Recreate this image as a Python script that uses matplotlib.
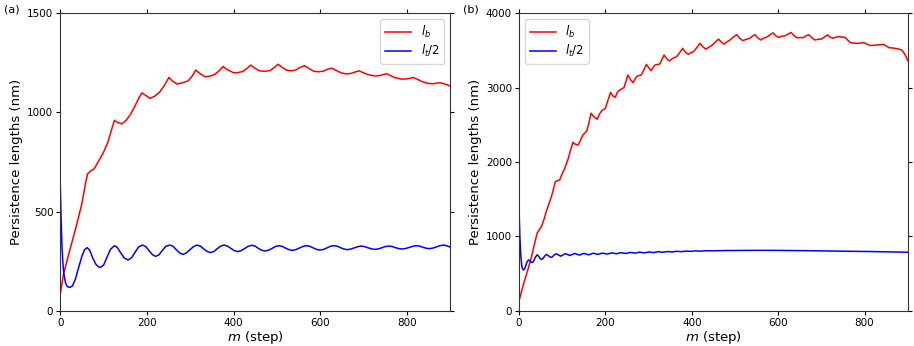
import matplotlib
matplotlib.use("Agg")
import matplotlib.pyplot as plt

# ---------------- Panel (a) data ----------------
a_red_m = [0, 7, 20, 35, 50, 58, 63, 70, 78, 90, 100, 110, 118, 125, 132, 142, 152, 162, 172, 182,
           189, 196, 207, 218, 230, 240, 251, 258, 270, 283, 296, 305, 313, 320, 334, 346, 357, 367,
           376, 384, 400, 410, 421, 431, 440, 448, 460, 473, 485, 495, 503, 512, 523, 534, 545, 555,
           564, 574, 585, 596, 607, 618, 627, 637, 648, 661, 672, 681, 690, 700, 712, 727, 738, 746,
           754, 763, 775, 788, 800, 808, 815, 824, 836, 850, 862, 870, 877, 885, 893, 900]
a_red_v = [84, 180, 290, 410, 541, 640, 690, 705, 715, 760, 800, 850, 910, 960, 950, 942, 960, 990, 1030, 1075,
           1099, 1088, 1071, 1082, 1104, 1135, 1177, 1160, 1143, 1150, 1160, 1185, 1214, 1200, 1180, 1183, 1192, 1210,
           1232, 1218, 1200, 1201, 1206, 1222, 1239, 1225, 1210, 1207, 1212, 1228, 1243, 1228, 1213, 1210, 1215, 1228,
           1236, 1222, 1208, 1205, 1208, 1218, 1223, 1212, 1200, 1194, 1197, 1204, 1210, 1200, 1190, 1184, 1186, 1191,
           1195, 1185, 1174, 1168, 1169, 1172, 1176, 1168, 1155, 1146, 1145, 1148, 1150, 1145, 1140, 1133]

a_blue_m = [0, 2, 4, 6, 8, 12, 16, 22, 28, 35, 42, 50, 56, 62, 68, 75, 82, 88, 93, 100,
            108, 116, 125, 132, 140, 148, 157, 165, 173, 181, 190, 198, 206, 213, 220, 228, 236, 244, 253,
            261, 268, 276, 283, 291, 299, 308, 316, 324, 331, 339, 347, 355, 362, 370, 378,
            386, 394, 402, 410, 418, 426, 434, 442, 450, 457, 465, 473, 481, 489, 497, 505,
            513, 520, 528, 536, 544, 552, 560, 568, 576, 584, 592, 600, 608, 616, 624, 632,
            640, 647, 655, 663, 671, 679, 687, 695, 703, 711, 719, 727, 735, 742, 750, 758,
            766, 774, 782, 790, 798, 806, 814, 822, 830, 837, 845, 853, 861, 869, 877, 885, 892, 900]
a_blue_v = [630, 450, 320, 240, 190, 140, 122, 117, 125, 160, 215, 275, 308, 318, 305, 265, 235, 221, 219, 230,
            270, 310, 328, 318, 290, 265, 256, 268, 296, 322, 331, 322, 300, 282, 274, 282, 305, 325, 331,
            324, 307, 291, 284, 291, 307, 324, 331, 325, 312, 299, 293, 299, 312, 325, 331,
            326, 314, 303, 298, 303, 314, 325, 330, 326, 315, 305, 301, 305, 314, 324, 328,
            324, 316, 308, 304, 308, 316, 324, 328, 325, 317, 309, 306, 309, 317, 325, 328,
            325, 318, 311, 308, 311, 317, 323, 326, 323, 317, 312, 309, 312, 317, 323, 326,
            324, 318, 313, 311, 314, 319, 325, 328, 326, 320, 315, 313, 316, 322, 328, 331, 328, 321]

# ---------------- Panel (b) data ----------------
b_red_m = [0, 10, 20, 29, 36, 42, 47, 52, 58, 63, 70, 75, 80, 84, 89, 94, 100, 106, 113, 119, 125, 130,
           137, 143, 148, 157, 162, 167, 173, 181, 186, 191, 200, 206, 212, 217, 223, 228, 233, 243, 248,
           252, 258, 264, 269, 274, 283, 290, 295, 300, 306, 311, 315, 326, 331, 336, 342, 348, 356, 365,
           372, 379, 385, 392, 398, 404, 412, 419, 426, 433, 440, 446, 454, 462, 468, 475, 481, 488, 496,
           504, 511, 518, 526, 534, 540, 546, 553, 560, 566, 573, 581, 588, 594, 601, 608, 616, 623, 630,
           636, 643, 650, 658, 664, 671, 678, 685, 693, 701, 708, 715, 720, 727, 733, 739, 747, 755, 761,
           768, 776, 785, 792, 799, 806, 814, 821, 828, 835, 844, 850, 857, 865, 872, 880, 886, 891, 896, 900]
b_red_v = [130, 350, 540, 726, 900, 1041, 1090, 1130, 1230, 1332, 1450, 1533, 1640, 1735, 1750, 1758, 1840, 1915,
           2027, 2150, 2265, 2240, 2229, 2300, 2363, 2417, 2530, 2655, 2610, 2574, 2640, 2686, 2722, 2830, 2937,
           2890, 2870, 2940, 2968, 3000, 3090, 3170, 3110, 3067, 3120, 3157, 3170, 3250, 3314, 3270, 3228, 3280,
           3305, 3318, 3380, 3439, 3390, 3359, 3395, 3417, 3470, 3529, 3480, 3448, 3470, 3484, 3540, 3596, 3550,
           3518, 3545, 3565, 3610, 3653, 3615, 3585, 3615, 3638, 3680, 3713, 3665, 3632, 3650, 3662, 3690, 3713,
           3670, 3641, 3665, 3677, 3710, 3737, 3700, 3675, 3690, 3698, 3720, 3742, 3705, 3672, 3672, 3673, 3695,
           3712, 3672, 3641, 3650, 3655, 3685, 3709, 3680, 3663, 3678, 3686, 3680, 3677, 3640, 3605, 3598, 3596,
           3602, 3606, 3585, 3566, 3570, 3574, 3578, 3582, 3560, 3538, 3532, 3528, 3518, 3505, 3470, 3420, 3363]

b_blue_m = [0, 2, 4, 6, 8, 10, 13, 16, 19, 22, 25, 28, 31, 34, 38, 42, 46, 49, 52, 56, 60, 64, 68, 73, 77,
            81, 86, 97, 107, 118, 129, 140, 150, 161, 172, 183, 193, 204, 215, 226, 236, 247, 258, 269, 279,
            290, 301, 312, 322, 333, 344, 355, 365, 376, 387, 398, 408, 419, 430, 450, 480, 520, 560, 600,
            650, 700, 750, 800, 850, 900]
b_blue_v = [1390, 1000, 750, 620, 565, 548, 560, 610, 660, 682, 672, 652, 648, 670, 720, 752, 730, 700, 688,
            705, 740, 758, 740, 718, 722, 748, 766, 733, 768, 742, 770, 748, 771, 752, 773, 757, 775, 762, 778,
            766, 781, 770, 784, 774, 787, 778, 790, 782, 793, 786, 796, 790, 799, 794, 802, 798, 805, 801, 806,
            806, 809, 811, 812, 811, 808, 805, 800, 797, 792, 786]

x_ticks = [0, 200, 400, 600, 800]
a_y_ticks = [0, 500, 1000, 1500]
b_y_ticks = [0, 1000, 2000, 3000, 4000]
legend_labels = [r'$l_b$', r'$l_t/2$']

plt.rcParams['font.family'] = ['DejaVu Sans']
fig = plt.figure(figsize=(9.14, 3.46), dpi=100)
W, H = 914, 346
ax1 = fig.add_axes([60.3 / W, 1 - 310.7 / H, (450.0 - 60.3) / W, (310.7 - 13.3) / H])
ax2 = fig.add_axes([519.0 / W, 1 - 310.7 / H, (907.7 - 519.0) / W, (310.7 - 13.3) / H])

def style(ax, yticks, ylim):
    ax.set_xlim(0, 900)
    ax.set_ylim(*ylim)
    ax.set_xticks(x_ticks)
    ax.set_yticks(yticks)
    ax.tick_params(axis='both', which='both', direction='out', top=True, right=True,
                   labelsize=7.5, length=3, width=0.8, pad=2)
    ax.set_xlabel(r'$m$ (step)', fontsize=9.5, labelpad=1)
    ax.set_ylabel('Persistence lengths (nm)', fontsize=9.5, labelpad=3)
    for s in ax.spines.values():
        s.set_linewidth(0.8)
        s.set_color('#333333')

ax1.plot(a_red_m, a_red_v, color='red', lw=1.1, label=legend_labels[0])
ax1.plot(a_blue_m, a_blue_v, color='blue', lw=1.1, label=legend_labels[1])
style(ax1, a_y_ticks, (0, 1500))
ax1.legend(loc='upper right', fontsize=8.5, handlelength=2.2, borderpad=0.4, labelspacing=0.25)

ax2.plot(b_red_m, b_red_v, color='red', lw=1.1, label=legend_labels[0])
ax2.plot(b_blue_m, b_blue_v, color='blue', lw=1.1, label=legend_labels[1])
style(ax2, b_y_ticks, (0, 4000))
ax2.legend(loc='upper left', fontsize=8.5, handlelength=2.2, borderpad=0.4, labelspacing=0.25)

fig.text(4 / W, 1 - 10 / H, '(a)', fontsize=8, va='center', ha='left')
fig.text(463 / W, 1 - 10 / H, '(b)', fontsize=8, va='center', ha='left')

fig.savefig('out.png', dpi=100)
